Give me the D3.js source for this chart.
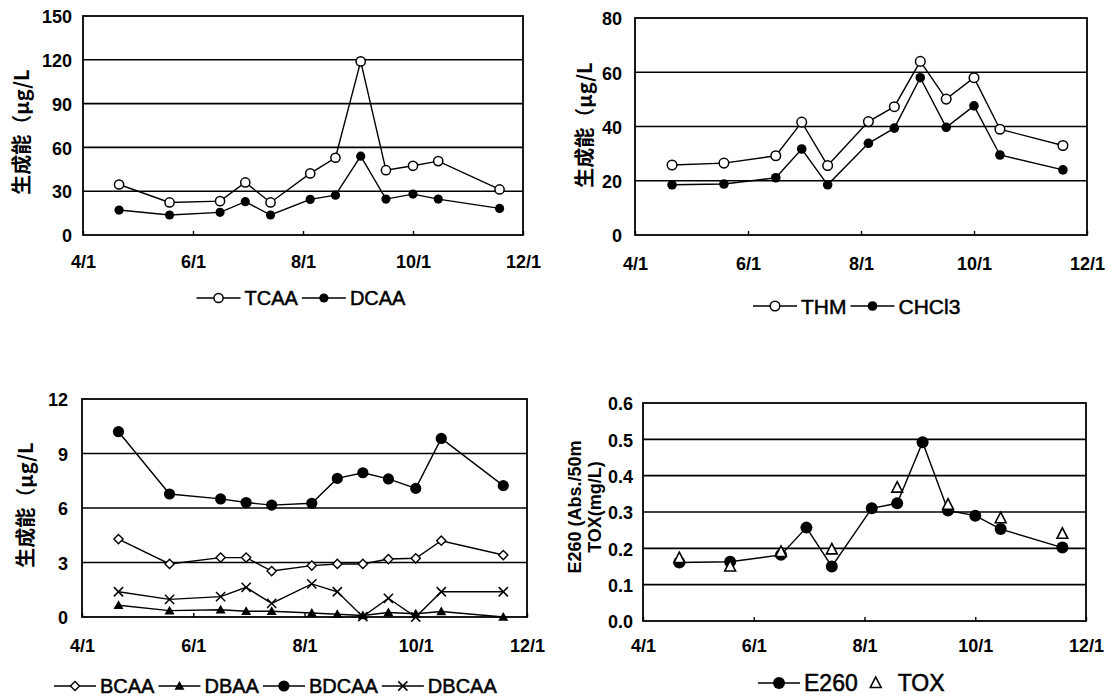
<!DOCTYPE html>
<html>
<head>
<meta charset="utf-8">
<script src="https://cdn.jsdelivr.net/npm/d3@7"></script>
<style>
  body { margin: 0; background: #fff; }
  svg { display: block; }
</style>
</head>
<body>
<svg id="chart" width="1113" height="698"></svg>
<script>
// Sampling dates and month ticks for the seasonal survey
const sampleDates = ["1998-04-21", "1998-05-19", "1998-06-16", "1998-06-30", "1998-07-14", "1998-08-05",
                     "1998-08-19", "1998-09-02", "1998-09-16", "1998-10-01", "1998-10-15", "1998-11-18"];
const monthTicks = ["1998-04-01", "1998-06-01", "1998-08-01", "1998-10-01", "1998-12-01"];

// Formation potential, µg/L
const tcaa  = [34.6, 22.3, 23.2, 36.0, 22.3, 42.2, 52.9, 118.9, 44.4, 47.4, 50.6, 31.2];
const dcaa  = [17.1, 13.7, 15.5, 22.8, 13.7, 24.4, 27.3, 54.0, 24.6, 28.0, 24.6, 18.2];
const thm   = [25.8, 26.5, 29.2, 41.6, 25.6, 41.8, 47.3, 64.0, 50.1, 58.0, 39.0, 33.0];
const chcl3 = [18.5, 18.8, 21.1, 31.7, 18.5, 33.8, 39.4, 58.0, 39.7, 47.6, 29.5, 24.0];
const bcaa  = [4.29, 2.92, 3.27, 3.27, 2.53, 2.83, 2.92, 2.92, 3.19, 3.23, 4.20, 3.41];
const dbaa  = [0.65, 0.35, 0.40, 0.32, 0.32, 0.22, 0.15, 0.08, 0.25, 0.18, 0.30, 0.00];
const bdcaa = [10.2, 6.77, 6.50, 6.30, 6.16, 6.26, 7.63, 7.94, 7.60, 7.08, 9.83, 7.23];
const dbcaa = [1.39, 0.97, 1.12, 1.63, 0.75, 1.82, 1.39, 0.02, 1.03, 0.00, 1.39, 1.39];

// UV absorbance (E260) and TOX, mg/L
const e260 = [0.161, 0.163, 0.182, 0.257, 0.150, 0.310, 0.324, 0.492, 0.304, 0.290, 0.253, 0.202];
const tox  = [0.173, 0.150, 0.190, null, 0.197, null, 0.367, null, 0.320, null, 0.283, 0.240];

// Y tick values per panel
const ticksHAA   = [0, 30, 60, 90, 120, 150];
const ticksTHM   = [0, 20, 40, 60, 80];
const ticksBr    = [0, 3, 6, 9, 12];
const ticksE260  = [0, 0.1, 0.2, 0.3, 0.4, 0.5, 0.6];

const parseDate = d3.timeParse("%Y-%m-%d");
const dates = sampleDates.map(parseDate);
const tickDates = monthTicks.map(parseDate);
const fmtMD = d => `${d.getMonth() + 1}/${d.getDate()}`;

const svg = d3.select("#chart");
const LATIN = "'Liberation Sans', Arial, sans-serif";
const CJK = "'Noto Sans CJK JP', 'Noto Sans CJK SC', sans-serif";

// Draws one marker glyph at (cx, cy)
function marker(g, type, cx, cy, s) {
  switch (type) {
    case "circle-open":
      g.append("circle").attr("cx", cx).attr("cy", cy).attr("r", s)
        .attr("fill", "#fff").attr("stroke", "#000").attr("stroke-width", 1.5);
      break;
    case "circle":
      g.append("circle").attr("cx", cx).attr("cy", cy).attr("r", s).attr("fill", "#000");
      break;
    case "diamond-open":
      g.append("path").attr("d", `M${cx},${cy - s}L${cx + s},${cy}L${cx},${cy + s}L${cx - s},${cy}Z`)
        .attr("fill", "#fff").attr("stroke", "#000").attr("stroke-width", 1.4);
      break;
    case "triangle":
      g.append("path").attr("d", `M${cx},${cy - s}L${cx + s},${cy + s * 0.75}L${cx - s},${cy + s * 0.75}Z`)
        .attr("fill", "#000");
      break;
    case "triangle-open":
      g.append("path").attr("d", `M${cx},${cy - s}L${cx + s * 0.9},${cy + s * 0.75}L${cx - s * 0.9},${cy + s * 0.75}Z`)
        .attr("fill", "#fff").attr("stroke", "#000").attr("stroke-width", 1.6);
      break;
    case "x":
      g.append("path").attr("d", `M${cx - s},${cy - s}L${cx + s},${cy + s}M${cx - s},${cy + s}L${cx + s},${cy - s}`)
        .attr("stroke", "#000").attr("stroke-width", 1.5).attr("fill", "none");
      break;
  }
}

const panels = [
  {
    x0: 83, x1: 523, y0: 16, y1: 235, yMax: 150, yTicks: ticksHAA, fmt: d3.format("d"),
    yPad: 11, xPad: 20,
    title: ["生成能（μg/L"], titleX: [20], titleY: 132, titleFont: CJK, titleSize: 20,
    series: [
      { values: tcaa, type: "circle-open", size: 4.6, line: true, label: "TCAA" },
      { values: dcaa, type: "circle", size: 4.6, line: true, label: "DCAA" }
    ],
    legend: { center: 303, y: 298, font: 20, lineLen: 44 }
  },
  {
    x0: 635, x1: 1087, y0: 18, y1: 235, yMax: 80, yTicks: ticksTHM, fmt: d3.format("d"),
    yPad: 13, xPad: 22,
    title: ["生成能（μg/L"], titleX: [583], titleY: 125, titleFont: CJK, titleSize: 20,
    series: [
      { values: thm, type: "circle-open", size: 4.8, line: true, label: "THM" },
      { values: chcl3, type: "circle", size: 4.8, line: true, label: "CHCl3" }
    ],
    legend: { start: 753, y: 306, font: 21, lineLen: 44 }
  },
  {
    x0: 82, x1: 527, y0: 399, y1: 617, yMax: 12, yTicks: ticksBr, fmt: d3.format("d"),
    yPad: 14, xPad: 22,
    title: ["生成能（μg/L"], titleX: [24], titleY: 505, titleFont: CJK, titleSize: 20,
    series: [
      { values: bcaa, type: "diamond-open", size: 4.6, line: true, label: "BCAA" },
      { values: dbaa, type: "triangle", size: 5, line: true, label: "DBAA" },
      { values: bdcaa, type: "circle", size: 5.6, line: true, label: "BDCAA" },
      { values: dbcaa, type: "x", size: 4.6, line: true, label: "DBCAA" }
    ],
    legend: { start: 54, y: 686, font: 20, lineLen: 42 }
  },
  {
    x0: 643, x1: 1086, y0: 403, y1: 621, yMax: 0.6, yTicks: ticksE260, fmt: d3.format(".1f"),
    yPad: 10, xPad: 18,
    title: ["E260 (Abs./50m", "TOX(mg/L)"], titleX: [575, 595], titleY: 507, titleFont: LATIN, titleSize: 18,
    series: [
      { values: e260, type: "circle", size: 6, line: true, label: "E260" },
      { values: tox, type: "triangle-open", size: 6, line: false, label: "TOX" }
    ],
    legend: { start: 758, y: 683, font: 23, lineLen: 42 }
  }
];

function drawPanel(p) {
  const g = svg.append("g");
  const x = d3.scaleTime().domain([tickDates[0], tickDates[tickDates.length - 1]]).range([p.x0, p.x1]);
  const y = d3.scaleLinear().domain([0, p.yMax]).range([p.y1, p.y0]);

  // horizontal gridlines at the inner ticks
  g.selectAll("line.grid")
    .data(p.yTicks.filter(v => v > 0 && v < p.yMax))
    .join("line")
    .attr("class", "grid")
    .attr("x1", p.x0).attr("x2", p.x1)
    .attr("y1", d => y(d)).attr("y2", d => y(d))
    .attr("stroke", "#000").attr("stroke-width", 1.6);

  // plot frame
  g.append("rect")
    .attr("x", p.x0).attr("y", p.y0)
    .attr("width", p.x1 - p.x0).attr("height", p.y1 - p.y0)
    .attr("fill", "none").attr("stroke", "#000").attr("stroke-width", 1.8);

  // y axis labels
  const ya = g.append("g")
    .attr("transform", `translate(${p.x0 - p.yPad},1)`)
    .call(d3.axisLeft(y).tickValues(p.yTicks).tickFormat(p.fmt).tickSize(0).tickPadding(0));
  ya.select(".domain").remove();
  ya.selectAll("text")
    .attr("font-family", LATIN).attr("font-size", 18).attr("font-weight", "bold").attr("fill", "#000");

  // x axis: short inward ticks and month labels
  const xa = g.append("g")
    .attr("transform", `translate(0,${p.y1})`)
    .call(d3.axisBottom(x).tickValues(tickDates).tickFormat(fmtMD).tickSize(-4).tickPadding(p.xPad));
  xa.select(".domain").remove();
  xa.selectAll(".tick line").attr("stroke", "#000").attr("stroke-width", 1.4);
  xa.selectAll("text")
    .attr("font-family", LATIN).attr("font-size", 18).attr("font-weight", "bold").attr("fill", "#000");

  // y title (rotated)
  p.title.forEach((t, i) => {
    g.append("text")
      .attr("transform", `translate(${p.titleX[i]},${p.titleY}) rotate(-90)`)
      .attr("text-anchor", "middle").attr("dominant-baseline", "central")
      .attr("font-family", p.titleFont).attr("font-size", p.titleSize).attr("font-weight", "bold")
      .attr("fill", "#000")
      .text(t);
  });

  // series lines and markers
  const line = d3.line()
    .defined(d => d.v != null)
    .x(d => x(d.date)).y(d => y(d.v));
  p.series.forEach(s => {
    const pts = s.values.map((v, i) => ({ date: dates[i], v }));
    if (s.line) {
      g.append("path").datum(pts).attr("d", line)
        .attr("fill", "none").attr("stroke", "#000").attr("stroke-width", 1.4);
    }
    const mg = g.append("g");
    pts.filter(d => d.v != null).forEach(d => marker(mg, s.type, x(d.date), y(d.v), s.size));
  });

  // legend row
  const L = p.legend;
  const lg = g.append("g");
  let cx = 0;
  p.series.forEach(s => {
    if (s.line) {
      lg.append("line").attr("x1", cx).attr("x2", cx + L.lineLen).attr("y1", 0).attr("y2", 0)
        .attr("stroke", "#000").attr("stroke-width", 1.5);
      marker(lg, s.type, cx + L.lineLen / 2, 0, s.size);
      cx += L.lineLen + 4;
    } else {
      cx += 14;
      marker(lg, s.type, cx, 0, s.size);
      cx += 22;
    }
    const t = lg.append("text").attr("x", cx).attr("y", 0)
      .attr("dominant-baseline", "central")
      .attr("font-family", LATIN).attr("font-size", L.font).attr("fill", "#000")
      .attr("stroke", "#000").attr("stroke-width", 0.5)
      .text(s.label);
    cx += t.node().getComputedTextLength() + 4;
  });
  const startX = L.start != null ? L.start : L.center - cx / 2;
  lg.attr("transform", `translate(${startX},${L.y})`);
}

panels.forEach(drawPanel);
</script>
</body>
</html>
